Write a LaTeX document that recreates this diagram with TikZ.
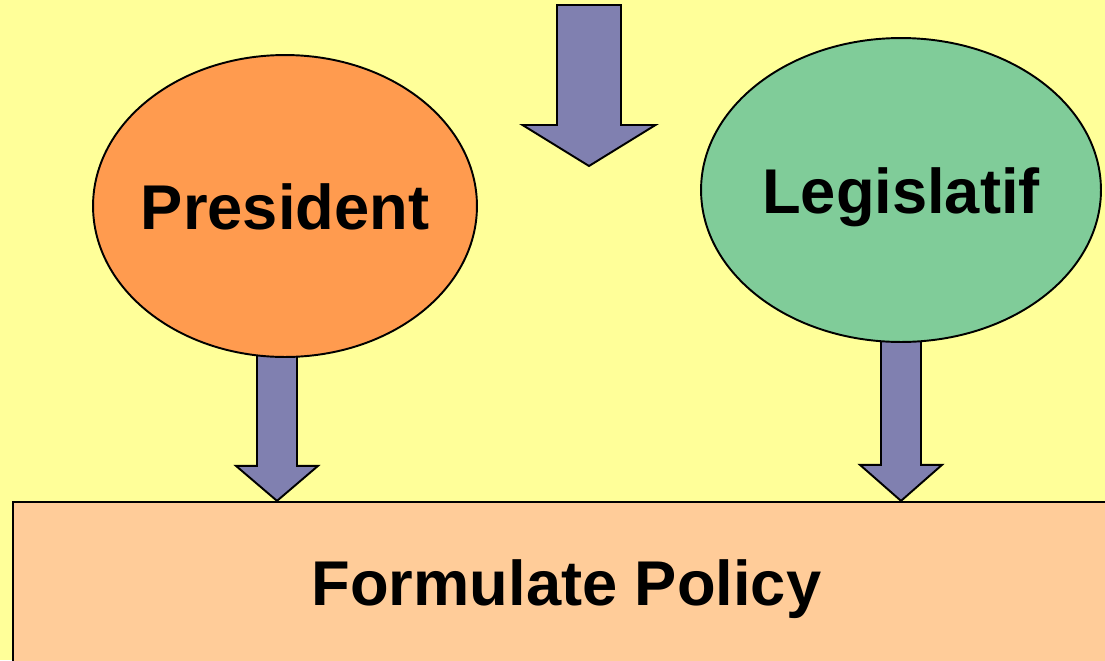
\documentclass[tikz,border=0pt]{standalone}
\usepackage{fontspec}
\setmainfont{Liberation Sans}
\usepackage{tikz}
\usetikzlibrary{calc,shapes.geometric,positioning}
\definecolor{bgyellow}{HTML}{FFFF99}
\definecolor{presorange}{HTML}{FF9B4F}
\definecolor{legisgreen}{HTML}{80CC99}
\definecolor{arrowblue}{HTML}{8080B0}
\definecolor{policypeach}{HTML}{FFCC99}
\tikzset{
  bubble/.style={ellipse, draw=black, line width=1.1pt, inner sep=0pt, text height=0.92cm, text depth=0pt, font=\fontsize{36}{40}\selectfont\bfseries},
  policybox/.style={rectangle, draw=black, line width=1.3pt, fill=policypeach, text height=0.8cm, text depth=0pt, font=\fontsize{36}{40}\selectfont\bfseries},
  blockarrow/.style={draw=black, line width=1.1pt, fill=arrowblue, line join=miter}
}
% block arrow: start, tip, shaft half width, head half width, head length
\newcommand{\blockarr}[5]{%
  \path[blockarrow] let \p1=(#1), \p2=(#2) in
    (\x1-#3,\y1) -- (\x1+#3,\y1) -- (\x1+#3,\y2+#5) -- (\x1+#4,\y2+#5)
    -- (\x2,\y2) -- (\x1-#4,\y2+#5) -- (\x1-#3,\y2+#5) -- cycle;}
\begin{document}
\begin{tikzpicture}[x=0.02cm,y=-0.02cm]
\useasboundingbox (0,0) rectangle (1105,660);
\clip (0,0) rectangle (1105,660);
\fill[bgyellow] (0,0) rectangle (1105,660);

\node[policybox, minimum width=22.14cm, minimum height=3.32cm] (policy) at (566.5,585) {Formulate Policy};

\coordinate (topin) at (589,5);
\coordinate (toptip) at (589,166);
\coordinate (presout) at (277,300);
\coordinate (legisout) at (901,300);

% arrows first, the ellipses cover their upper ends
\blockarr{topin}{toptip}{0.64cm}{1.33cm}{0.82cm}
\blockarr{presout}{presout |- policy.north}{0.4cm}{0.82cm}{0.7cm}
\blockarr{legisout}{legisout |- policy.north}{0.4cm}{0.82cm}{0.72cm}

\node[bubble, fill=presorange, minimum width=7.68cm, minimum height=6.04cm] (pres) at (285,206) {\makebox[0pt]{President}};
\node[bubble, fill=legisgreen, minimum width=8cm, minimum height=6.08cm] (legis) at (901,190) {\makebox[0pt]{Legislatif}};
\end{tikzpicture}
\end{document}
